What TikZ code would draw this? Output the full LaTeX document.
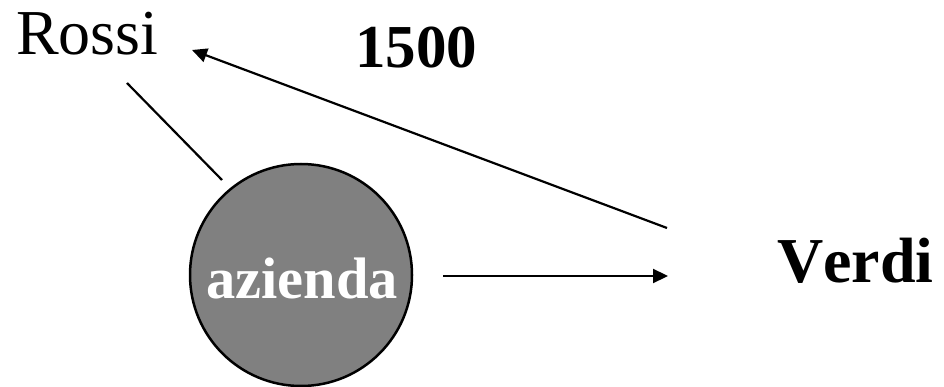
\documentclass[tikz,border=0pt]{standalone}
\usepackage{fontspec}
\setmainfont{Liberation Serif}
\usetikzlibrary{arrows.meta}
\definecolor{discgray}{RGB}{128,128,128}
\tikzset{
  lbl/.style={inner sep=0pt, anchor=base west},
  conn/.style={draw=black, line width=2.2pt},
  arr/.style={conn, -{Triangle[length=15pt,width=14pt]}},
  disc/.style={circle, draw=black, line width=2.5pt, fill=discgray, minimum size=222pt, inner sep=0pt}
}
\begin{document}
\begin{tikzpicture}[x=1pt,y=-1pt]
\useasboundingbox (0,0) rectangle (944,387);
\node[disc] (az) at (301,275) {};
\node[lbl, text=white] (aztext) at (206,298) {\fontsize{58.5}{60}\selectfont\bfseries\addfontfeatures{Kerning=Off}azienda};
\node[lbl] (rossi) at (16,55) {\fontsize{64}{66}\selectfont\addfontfeatures{Kerning=Off}Rossi};
\node[lbl] (n1500) at (355,68) {\fontsize{61}{62}\selectfont\bfseries 1500};
\node[lbl] (verdi) at (777,282) {\fontsize{64}{66}\selectfont\bfseries\addfontfeatures{Kerning=Off}Verdi};
\coordinate (r1) at (127,83);
\coordinate (r2) at (222,180);
\coordinate (a1) at (667,228);
\coordinate (a2) at (192,50);
\coordinate (h1) at (443,276);
\coordinate (h2) at (668,276);
\draw[conn] (r1) -- (r2);
\draw[arr] (a1) -- (a2);
\draw[arr] (h1) -- (h2);
\end{tikzpicture}
\end{document}
